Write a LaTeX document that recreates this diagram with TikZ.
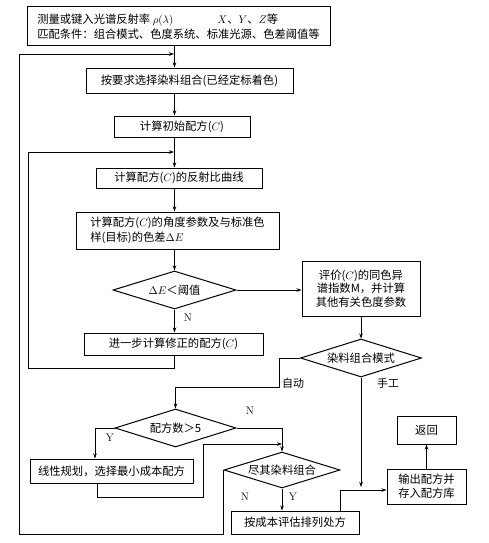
\documentclass[tikz,border=0pt]{standalone}
\usepackage{fontspec}
\newfontfamily\cjk{Noto Sans CJK SC}
\usetikzlibrary{arrows.meta,shapes.geometric,positioning}

\begin{document}
\begin{tikzpicture}[x=1pt,y=-1pt]
	\tikzstyle{every node}=[font=\cjk\fontsize{11.3}{15}\selectfont]
	\tikzstyle{box}=[draw, line width=1pt, inner sep=0pt, align=center]
	\tikzstyle{choice}=[draw, diamond, aspect=3, line width=1pt, inner sep=0pt]
	\tikzstyle{flow}=[line width=0.7pt, -{Stealth[length=5pt,width=3.5pt]}]
	\tikzstyle{conn}=[line width=0.7pt]
	\tikzstyle{lab}=[font=\fontsize{11}{13}\selectfont]
	\useasboundingbox (0,0) rectangle (488,543);
	% boxes and tests
	\node [box, minimum width=303pt, minimum height=39pt, align=left] (meas) at (178.5,26.5) {测量或键入光谱反射率 $\rho(\lambda)$\hspace{44pt}$X$、$Y$、$Z$等\\匹配条件：组合模式、色度系统、标准光源、色差阈值等};
	\node [box, minimum width=207pt, minimum height=25pt] (sel) at (189.5,80.5) {按要求选择染料组合(已经定标着色)};
	\node [box, minimum width=136pt, minimum height=21pt] (init) at (182,126.5) {计算初始配方($C$)};
	\node [box, minimum width=166pt, minimum height=20pt] (refl) at (179,178) {计算配方($C$)的反射比曲线};
	\node [box, minimum width=203pt, minimum height=37pt, align=left] (diff) at (177.5,230.5) {计算配方($C$)的角度参数及与标准色\\样(目标)的色差$\Delta E$};
	\node [choice, minimum width=123pt, minimum height=38pt] (dE) at (174.5,290) {$\Delta E$＜阈值};
	\node [box, minimum width=118pt, minimum height=55pt, font=\cjk\fontsize{11.3}{13.5}\selectfont] (meta) at (361,288.5) {评价($C$)的同色异\\谱指数M，并计算\\其他有关色度参数};
	\node [box, minimum width=179pt, minimum height=22pt] (corr) at (173.5,344) {进一步计算修正的配方($C$)};
	\node [choice, minimum width=121pt, minimum height=38pt] (mode) at (361,358) {染料组合模式};
	\node [choice, minimum width=121pt, minimum height=38pt] (cnt) at (175.5,428) {配方数＞5};
	\node [box, minimum width=163pt, minimum height=24pt] (lp) at (111.5,471) {线性规划，选择最小成本配方};
	\node [choice, minimum width=116pt, minimum height=36pt] (full) at (282,470) {尽其染料组合};
	\node [box, minimum width=128pt, minimum height=23pt] (cost) at (295,522.5) {按成本评估排列处方};
	\node [box, minimum width=79pt, minimum height=35pt, font=\cjk\fontsize{11.3}{14}\selectfont] (out) at (426.5,486.5) {输出配方并\\存入配方库};
	\node [box, minimum width=59pt, minimum height=28pt] (ret) at (426.5,430) {返回};
	% bends
	\coordinate (outleft) at (19,534);
	\coordinate (outtop) at (174,54);
	\coordinate (inleft) at (28,368);
	\coordinate (intop) at (174,152);
	\coordinate (autobend) at (279,387);
	\coordinate (ybend) at (95,428);
	\coordinate (lpdown) at (97,497);
	\coordinate (lpup) at (203,444);
	\coordinate (join) at (340,490);
	% main line
	\draw [flow] (meas.south -| dE.north) -- (sel.north -| dE.north);
	\draw [flow] (sel.south -| dE.north) -- (init.north -| dE.north);
	\draw [flow] (init.south -| dE.north) -- (refl.north -| dE.north);
	\draw [flow] (refl.south -| dE.north) -- (diff.north -| dE.north);
	\draw [flow] (diff.south -| dE.north) -- (dE.north);
	\draw [flow] (dE.south) -- (corr.north -| dE.south);
	\draw [flow] (dE.east) -- (meta.west |- dE.east);
	\draw [flow] (corr.south -| dE.south) |- (inleft) |- (intop);
	\draw [flow] (meta.south) -- (mode.north);
	\draw [flow] (mode.west) -| (autobend) -| (cnt.north);
	\draw [flow] (mode.south) -- ([yshift=3pt]mode.south |- join);
	\draw [flow] (cnt.east) -| (full.north);
	\draw [flow] (cnt.west) -- (ybend) -- (ybend |- lp.north);
	\draw [flow] (lpdown |- lp.south) -- (lpdown) -| (lpup) -- (lpup -| full.north);
	\draw [flow] (full.south) -- (full.south |- cost.north);
	\draw [flow] (full.west) |- (outleft) |- (outtop);
	\draw [flow] (cost.north -| join) -- (join) -- (out.west |- join);
	\draw [flow] (out.north) -- (ret.south);
	% labels
	\node [lab] at (188,318) {N};
	\node [lab] at (293,383) {\cjk 自动};
	\node [lab] at (388,383) {\cjk 手工};
	\node [lab] at (250,411) {N};
	\node [lab] at (110,438) {Y};
	\node [lab] at (245,497) {N};
	\node [lab] at (293,497) {Y};
\end{tikzpicture}
\end{document}
